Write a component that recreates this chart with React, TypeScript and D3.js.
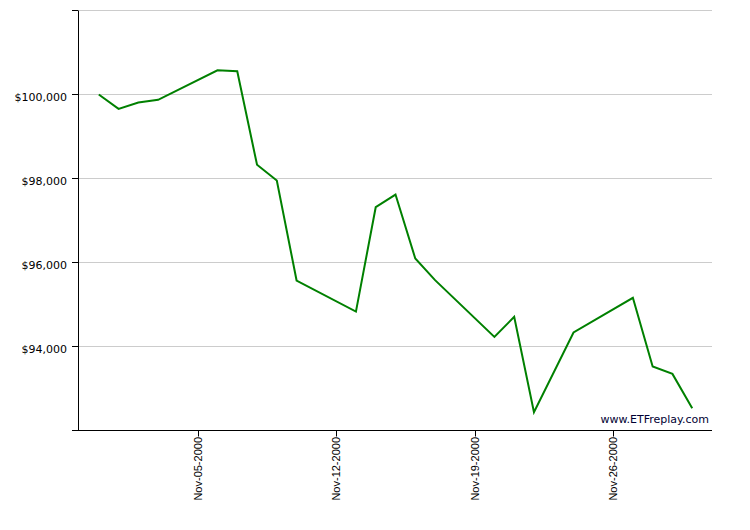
import React from "react";
import * as d3 from "d3";

// Daily portfolio value (trading days only)
const dates = [
	"2000-10-31", "2000-11-01", "2000-11-02", "2000-11-03",
	"2000-11-06", "2000-11-07", "2000-11-08", "2000-11-09", "2000-11-10",
	"2000-11-13", "2000-11-14", "2000-11-15", "2000-11-16", "2000-11-17",
	"2000-11-20", "2000-11-21", "2000-11-22", "2000-11-24",
	"2000-11-27", "2000-11-28", "2000-11-29", "2000-11-30",
];
const values = [
	100000, 99657, 99810, 99873,
	100577, 100553, 98326, 97954, 95571,
	94831, 97316, 97618, 96095, 95580,
	94229, 94706, 92433, 94334,
	95159, 93523, 93347, 92529,
];
const xTickDates = ["2000-11-05", "2000-11-12", "2000-11-19", "2000-11-26"];
const yTicks = [92000, 94000, 96000, 98000, 100000, 102000];
const yLabelled = [94000, 96000, 98000, 100000];
const xDomain = ["2000-10-30", "2000-12-01"];
const watermark = "www.ETFreplay.com";

const parse = d3.utcParse("%Y-%m-%d");
const fmtDate = d3.utcFormat("%b-%d-%Y");
const fmtMoney = (v: number) => "$" + d3.format(",")(v);

const width = 750;
const height = 530;
const left = 78;
const right = 712;
const top = 10.5;
const bottom = 430.5;

export default function App() {
	const x = d3
		.scaleUtc()
		.domain(xDomain.map((d) => parse(d) as Date))
		.range([left + 1, right]);
	const y = d3.scaleLinear().domain([92000, 102000]).range([bottom, top]);

	const pts = dates.map((d, i) => ({ date: parse(d) as Date, v: values[i] }));
	const line = d3
		.line<{ date: Date; v: number }>()
		.x((d) => x(d.date))
		.y((d) => y(d.v));

	return (
		<svg
			width={width}
			height={height}
			style={{ position: "absolute", left: 0, top: 0, background: "#fff" }}
		>
			{/* gridlines */}
			{yTicks
				.filter((t) => t !== 92000)
				.map((t) => (
					<line
						key={"g" + t}
						x1={left}
						x2={right}
						y1={y(t)}
						y2={y(t)}
						stroke="#cccccc"
						strokeWidth={1}
					/>
				))}

			{/* y axis */}
			<line x1={left + 0.5} x2={left + 0.5} y1={top} y2={bottom} stroke="#000" />
			{yTicks.map((t) => (
				<line
					key={"yt" + t}
					x1={left - 6}
					x2={left}
					y1={y(t)}
					y2={y(t)}
					stroke="#000"
				/>
			))}
			{yLabelled.map((t) => (
				<text
					key={"yl" + t}
					x={left - 11}
					y={y(t) + 6}
					textAnchor="end"
					fontFamily="DejaVu Sans"
					fontSize={11}
					fill="#000"
				>
					{fmtMoney(t)}
				</text>
			))}

			{/* x axis */}
			<line x1={left - 6} x2={right} y1={bottom} y2={bottom} stroke="#000" />
			{xTickDates.map((d) => {
				const xp = Math.round(x(parse(d) as Date)) + 0.5;
				return (
					<g key={d} transform={`translate(${xp},${bottom})`}>
						<line y1={0} y2={6} stroke="#000" />
						<text
							transform="rotate(-90)"
							x={-6.5}
							y={0}
							dy="0.35em"
							textAnchor="end"
							fontFamily="Liberation Sans"
							fontSize={11}
							fill="#000"
						>
							{fmtDate(parse(d) as Date)}
						</text>
					</g>
				);
			})}

			{/* series */}
			<path
				d={line(pts) ?? ""}
				fill="none"
				stroke="#008000"
				strokeWidth={2}
				strokeLinejoin="miter"
			/>

			<text
				x={right - 3}
				y={bottom - 7.5}
				textAnchor="end"
				fontFamily="DejaVu Sans"
				fontSize={11}
				fill="#000033"
			>
				{watermark}
			</text>
		</svg>
	);
}
